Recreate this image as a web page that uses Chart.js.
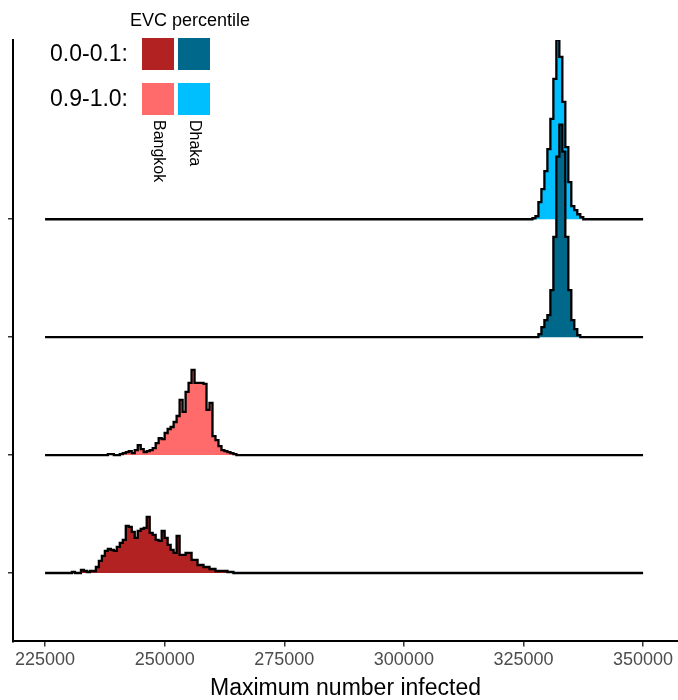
<!DOCTYPE html>
<html>
<head>
<meta charset="utf-8">
<title>Maximum number infected by EVC percentile</title>
<script src="https://cdn.jsdelivr.net/npm/chart.js@4.4.0/dist/chart.umd.min.js"></script>
<style>
  body { margin: 0; background: #fff; }
  #wrap { width: 678px; height: 700px; position: relative; }
</style>
</head>
<body>
<div id="wrap"><canvas id="ridgeChart"></canvas></div>
<script>
// ─── Data ───────────────────────────────────────────────────────────────────
// histogram bins, 625 wide, over 225000-350000
const binWidth = 625;
const binRange = [225000, 350000];
const xTicks = [225000, 250000, 275000, 300000, 325000, 350000];

const cities = ['Bangkok', 'Dhaka'];
const percentiles = ['0.0-0.1', '0.9-1.0'];
// ridge baselines, bottom to top
const ridgeRows = [1, 2, 3, 4];
// counts that reach one full ridge spacing
const rowScale = 117.6;

// runs per bin, listed from the first non-empty bin
const bangkokLowFirstBin = 9;
const bangkokLowCounts = [1, 0, 0, 3, 2, 1, 2, 2, 6, 12, 17, 22, 24, 23, 22, 26, 30, 33, 47, 46,
    41, 35, 42, 44, 45, 56, 40, 38, 33, 32, 42, 35, 28, 23, 20, 37, 18, 18, 20, 20,
    13, 13, 8, 8, 6, 6, 4, 4, 2, 2, 2, 2, 1, 1];

const bangkokHighFirstBin = 21;
const bangkokHighCounts = [1, 1, 0, 0, 1, 2, 3, 4, 2, 5, 10, 6, 3, 4, 5, 7, 12, 17, 16, 22,
    26, 28, 33, 39, 55, 43, 63, 72, 85, 72, 72, 72, 71, 45, 52, 19, 15, 9, 5, 4, 3, 2, 1];

const dhakaLowFirstBin = 165;
const dhakaLowCounts = [3, 10, 17, 22, 47, 100, 180, 212, 185, 100, 47, 17, 8, 2];

const dhakaHighFirstBin = 163;
const dhakaHighCounts = [1, 3, 17, 30, 48, 70, 100, 140, 179, 162, 117, 72, 37, 13, 9, 5, 2];

const fillColors = {
    'Bangkok 0.0-0.1': '#B22222',
    'Bangkok 0.9-1.0': '#FF6A6A',
    'Dhaka 0.0-0.1': '#00688B',
    'Dhaka 0.9-1.0': '#00BFFF'
};

// ─── Build stepped histogram outlines ───────────────────────────────────────
function histogramPoints(row, firstBin, counts) {
    const nBins = Math.round((binRange[1] - binRange[0]) / binWidth);
    const pts = [];
    for (let i = 0; i <= nBins; i++) {
        const idx = i - firstBin;
        const c = (idx >= 0 && idx < counts.length) ? counts[idx] : 0;
        pts.push({ x: binRange[0] + i * binWidth, y: row + c / rowScale });
    }
    return pts;
}

function ridge(label, row, firstBin, counts) {
    return {
        label: label,
        data: histogramPoints(row, firstBin, counts),
        stepped: 'before',
        fill: { value: row },
        backgroundColor: fillColors[label],
        borderColor: '#000',
        borderWidth: 2.3,
        pointRadius: 0,
        tension: 0
    };
}

// first dataset is painted last, so lower ridges sit on top
const datasets = [
    ridge('Bangkok 0.0-0.1', ridgeRows[0], bangkokLowFirstBin, bangkokLowCounts),
    ridge('Bangkok 0.9-1.0', ridgeRows[1], bangkokHighFirstBin, bangkokHighCounts),
    ridge('Dhaka 0.0-0.1', ridgeRows[2], dhakaLowFirstBin, dhakaLowCounts),
    ridge('Dhaka 0.9-1.0', ridgeRows[3], dhakaHighFirstBin, dhakaHighCounts)
];

// ─── Legend drawn by hand (keys grid with rotated city names) ───────────────
const FONT = '"Liberation Sans", Arial, Helvetica, sans-serif';

const evcLegend = {
    id: 'evcLegend',
    afterDraw(chart) {
        const ctx = chart.ctx;
        const keySize = 32;
        const colX = [142, 178];
        const rowY = [38, 83];
        ctx.save();
        ctx.fillStyle = '#000';
        ctx.font = '18px ' + FONT;
        ctx.textAlign = 'left';
        ctx.textBaseline = 'alphabetic';
        ctx.fillText('EVC percentile', 130, 26);

        percentiles.forEach((p, r) => {
            ctx.fillStyle = '#000';
            ctx.font = '23px ' + FONT;
            ctx.textAlign = 'right';
            ctx.textBaseline = 'middle';
            ctx.fillText(p + ':', 128, rowY[r] + keySize / 2 + 1);
            cities.forEach((c, k) => {
                ctx.fillStyle = fillColors[c + ' ' + p];
                ctx.fillRect(colX[k], rowY[r], keySize, keySize);
            });
        });

        cities.forEach((c, k) => {
            ctx.save();
            ctx.translate(colX[k] + keySize / 2, 120);
            ctx.rotate(Math.PI / 2);
            ctx.fillStyle = '#000';
            ctx.font = '16px ' + FONT;
            ctx.textAlign = 'left';
            ctx.textBaseline = 'middle';
            ctx.fillText(c, 0, 0);
            ctx.restore();
        });
        ctx.restore();
    }
};

// ─── Chart ──────────────────────────────────────────────────────────────────
new Chart(document.getElementById('ridgeChart').getContext('2d'), {
    type: 'line',
    data: { datasets: datasets },
    options: {
        responsive: true,
        maintainAspectRatio: false,
        animation: false,
        events: [],
        layout: { padding: { top: 40, left: 8, right: 0, bottom: 0 } },
        plugins: {
            legend: { display: false },
            tooltip: { enabled: false },
            filler: { drawTime: 'beforeDatasetDraw' }
        },
        scales: {
            x: {
                type: 'linear',
                min: 218300,
                max: 357300,
                afterBuildTicks: (scale) => { scale.ticks = xTicks.map(v => ({ value: v })); },
                grid: { display: true, drawOnChartArea: false, drawTicks: true, tickLength: 5, color: '#333', lineWidth: 1.5 },
                border: { display: true, color: '#000', width: 2 },
                ticks: {
                    color: '#4D4D4D',
                    padding: 3,
                    maxRotation: 0,
                    autoSkip: false,
                    font: { family: FONT, size: 18, lineHeight: 1.2 },
                    callback: (v) => String(v)
                },
                title: {
                    display: true,
                    text: 'Maximum number infected',
                    color: '#000',
                    font: { family: FONT, size: 23, lineHeight: 1.0 },
                    padding: { top: 3, bottom: 0 }
                }
            },
            y: {
                type: 'linear',
                min: 0.42,
                max: 5.52,
                afterBuildTicks: (scale) => { scale.ticks = ridgeRows.map(v => ({ value: v })); },
                grid: { display: true, drawOnChartArea: false, drawTicks: true, tickLength: 5, color: '#333', lineWidth: 1.5 },
                border: { display: true, color: '#000', width: 2 },
                ticks: { display: false }
            }
        }
    },
    plugins: [evcLegend]
});
</script>
</body>
</html>
